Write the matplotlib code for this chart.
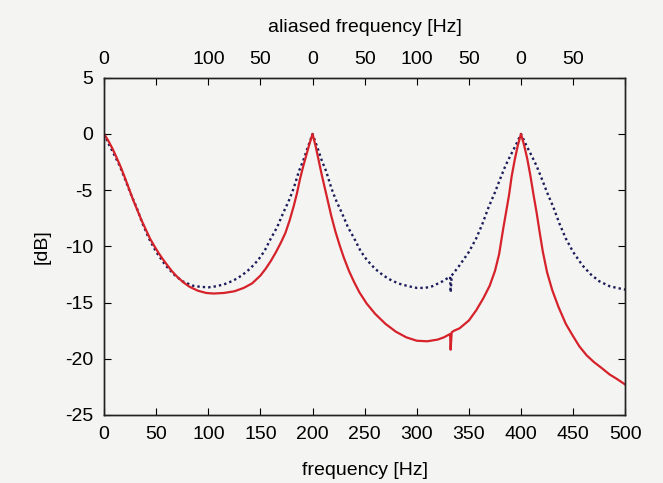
import numpy as np
import matplotlib
matplotlib.use('Agg')
import matplotlib.pyplot as plt

plt.rcParams['font.family'] = ['Liberation Sans', 'DejaVu Sans']
plt.rcParams['axes.unicode_minus'] = False

# aliased (dotted) response
f_alias = [0, 5, 10, 15, 20, 25, 31, 37, 43, 50, 59, 67, 75, 85, 92, 100,
           108, 116, 124, 132, 140, 148, 154, 160, 166, 172, 177, 180, 182, 187, 191, 195, 200,
           205, 209, 213, 218, 220, 223, 228, 234, 240, 246, 252, 260, 268, 276, 284, 292, 300,
           308, 315, 325, 331, 332, 332.5, 333.5, 341, 350, 357, 363, 369, 375, 380, 385, 390,
           395, 400, 405, 410, 415, 420, 425, 431, 437, 443, 450, 459, 467, 475, 485, 492, 500]
db_alias = [0, -1.0, -1.9, -2.85, -4.0, -5.2, -6.5, -8.0, -9.3, -10.5, -11.7, -12.5, -13.1,
            -13.5, -13.6, -13.65,
            -13.55, -13.35, -13.05, -12.6, -12.0, -11.2, -10.4, -9.3, -8.3, -7.0, -6.0, -5.3,
            -4.8, -3.3, -2.4, -1.3, 0,
            -1.3, -2.4, -3.3, -4.8, -5.3, -6.0, -7.0, -8.3, -9.3, -10.4, -11.2, -12.0, -12.6,
            -13.05, -13.35, -13.55, -13.7,
            -13.7, -13.55, -13.1, -12.75, -12.7, -14.1, -12.6, -11.7, -10.5, -9.3, -8.0, -6.5,
            -5.2, -4.0, -2.85, -1.9, -1.0, 0, -1.0, -1.9, -2.85, -4.0, -5.2, -6.5, -8.0, -9.3,
            -10.5, -11.7, -12.5, -13.1, -13.55, -13.7, -13.85]

# measured (solid) response
f_meas = [0, 4, 8, 12, 16, 20, 24, 28, 32, 36, 40, 44, 48, 52, 56, 60, 65, 70, 76, 82, 90,
          98, 105, 115, 125, 134, 142, 150, 155, 160, 165, 170, 174, 178, 182, 185, 188, 191,
          194, 197, 200, 203, 206, 209, 212, 215, 218, 222, 226, 230, 235, 240, 245, 252, 260,
          270, 280, 290, 300, 310, 320, 326, 331, 332, 332.5, 333.5, 336, 341, 350, 357, 364,
          370, 375, 379, 383, 386, 388.6, 391, 394, 397, 400, 403, 406, 409, 412, 415, 418,
          421, 425, 430, 436, 443, 450, 456, 463, 470, 477, 485, 492, 500]
db_meas = [0, -0.6, -1.3, -2.1, -2.95, -3.9, -4.9, -5.9, -6.8, -7.7, -8.5, -9.3, -9.95,
           -10.55, -11.1, -11.6, -12.2, -12.7, -13.2, -13.6, -13.95, -14.15, -14.2, -14.15,
           -14.0, -13.7, -13.3, -12.6, -12.0, -11.3, -10.5, -9.6, -8.8, -7.7, -6.4, -5.3,
           -4.0, -2.9, -1.9, -0.9, 0, -1.1, -2.4, -3.7, -4.9, -6.1, -7.3, -8.7, -9.9, -11.0,
           -12.2, -13.2, -14.1, -15.1, -16.0, -16.9, -17.6, -18.1, -18.4, -18.45, -18.3,
           -18.1, -17.85, -17.8, -19.2, -17.65, -17.5, -17.3, -16.6, -15.7, -14.6, -13.5,
           -12.2, -10.7, -8.4, -6.8, -5.4, -3.8, -2.3, -1.0, 0, -1.0, -2.2, -3.7, -5.4, -7.0,
           -8.8, -10.5, -12.3, -13.9, -15.4, -16.9, -18.0, -18.9, -19.7, -20.3, -20.8, -21.4,
           -21.8, -22.3]

top_ticks = [0, 50, 100, 150, 200, 250, 300, 350, 400, 450, 500]
top_labels = ['0', '', '100', '50', '0', '50', '100', '50', '0', '50', '']

bg = '#f4f4f2'
fs = 14
fig = plt.figure(figsize=(6.63, 4.83), dpi=100, facecolor=bg)
ax = fig.add_axes([0.157, 0.141, 0.786, 0.698], facecolor=bg)

ax.plot(f_alias, db_alias, color='#1c1c5c', lw=1.7, linestyle=(0, (1, 1.3)))
ax.plot(f_meas, db_meas, color='#d6222a', lw=1.6)

ax.set_xlim(0, 500)
ax.set_ylim(-25, 5)
ax.set_xticks(np.arange(0, 501, 50))
ax.set_yticks(np.arange(-25, 6, 5))
ax.tick_params(direction='in', length=5, labelsize=fs, top=False, right=True, pad=8)
ax.set_xlabel('frequency [Hz]', fontsize=fs, labelpad=14)
ax.set_ylabel('[dB]', fontsize=fs, labelpad=10)

ax2 = ax.twiny()
ax2.set_xlim(0, 500)
ax2.set_xticks(top_ticks)
ax2.set_xticklabels(top_labels)
ax2.tick_params(direction='in', length=5, labelsize=fs, pad=7)
ax2.set_xlabel('aliased frequency [Hz]', fontsize=fs, labelpad=14)

for a in (ax, ax2):
    for s in a.spines.values():
        s.set_linewidth(1.0)
        s.set_color('#222222')

fig.savefig('out.png', dpi=100, facecolor=bg)
